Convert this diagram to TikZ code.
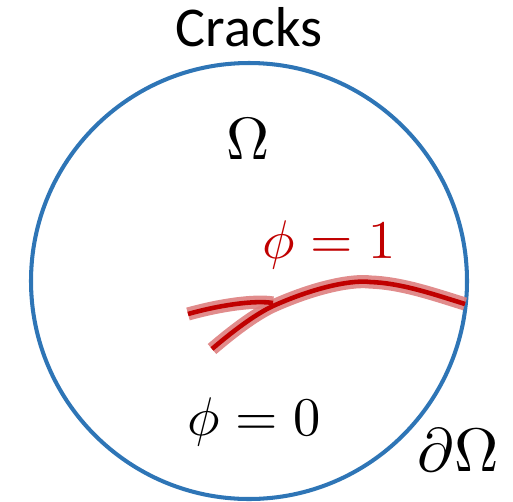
\documentclass[tikz,border=0pt]{standalone}
\usepackage{fontspec}
\usepackage{unicode-math}
\setmainfont{Carlito}
\setmathfont{Latin Modern Math}
\usepackage{tikz}
\usepackage{xcolor}
\definecolor{domain}{HTML}{2E75B6}
\definecolor{crack}{HTML}{C00000}
\definecolor{halo}{HTML}{DE8080}

\begin{document}
\begin{tikzpicture}[
  x=0.02cm, y=-0.02cm,
  boundary/.style={draw=domain, line width=2.3pt},
  crackhalo/.style={draw=halo, line width=7.5pt, opacity=0.9},
  crackline/.style={draw=crack, line width=2.6pt},
  label/.style={inner sep=0pt, font=\fontsize{31}{36}\selectfont}
]
\useasboundingbox (0,0) rectangle (513,501);
\draw[boundary] (249,281) circle[radius=218];
\node[label, font=\fontsize{32}{36}\selectfont] (title) at (249,27) {Cracks};
\node[label, font=\fontsize{34}{38}\selectfont] (omega) at (248,138) {$\Omega$};
\node[label, text=crack] (one) at (329,245) {$\phi=1$};
\node[label] (zero) at (254,422) {$\phi=0$};
\node[label, font=\fontsize{35}{38}\selectfont] (bnd) at (458,450) {$\partial\Omega$};
% crack paths
\draw[crackhalo] (188,314) .. controls (220,305) and (255,300) .. (273,303);
\draw[crackhalo] (212,349) .. controls (240,325) and (260,312) .. (273,306)
  .. controls (320,285) and (355,280) .. (370,282)
  .. controls (400,283) and (430,293) .. (465,304);
\draw[crackline] (188,314) .. controls (220,305) and (255,300) .. (273,303);
\draw[crackline] (212,349) .. controls (240,325) and (260,312) .. (273,306)
  .. controls (320,285) and (355,280) .. (370,282)
  .. controls (400,283) and (430,293) .. (465,304);
\end{tikzpicture}
\end{document}
